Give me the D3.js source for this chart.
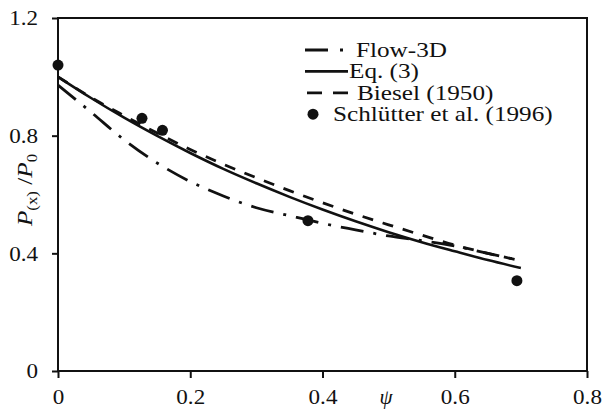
<!DOCTYPE html>
<html>
<head>
<meta charset="utf-8">
<script src="https://cdn.jsdelivr.net/npm/d3@7"></script>
<style>
  body { margin: 0; background: #fff; }
  text { font-family: "Liberation Serif", "Times New Roman", serif; fill: #111; }
</style>
</head>
<body>
<div id="visContainer"></div>
<script>
'use strict';

// values
var psi = [0, 0.05, 0.1, 0.15, 0.2, 0.25, 0.3, 0.35, 0.4, 0.45, 0.5, 0.55, 0.6, 0.65, 0.7];
var flow3d = [0.972, 0.88, 0.786, 0.707, 0.644, 0.595, 0.555, 0.528, 0.502, 0.480, 0.459, 0.443, 0.425, 0.400, 0.375];
var eq3 = [1.0, 0.928, 0.861, 0.799, 0.741, 0.687, 0.638, 0.592, 0.549, 0.509, 0.472, 0.438, 0.407, 0.377, 0.35];
var biesel = [1.0, 0.93, 0.868, 0.809, 0.753, 0.703, 0.657, 0.613, 0.572, 0.533, 0.497, 0.462, 0.428, 0.400, 0.375];
var expX = [0, 0.127, 0.158, 0.378, 0.694];
var expY = [1.04, 0.859, 0.818, 0.511, 0.307];
var legendNames = ['Flow-3D', 'Eq. (3)', 'Biesel (1950)', 'Schl\u00fctter et al. (1996)'];
var xTicks = [0, 0.2, 0.4, 0.6, 0.8];
var yTicks = [0, 0.4, 0.8, 1.2];

var width = 603;
var height = 410;
var padding = { top: 18, right: 16, bottom: 39, left: 58 };
var stretch = 1.2; // the original lettering is a bit wider than Times

var svg = d3.select('#visContainer')
    .append('svg')
    .attr('width', width)
    .attr('height', height);

var x = d3.scaleLinear().domain([0, 0.8]).range([padding.left, width - padding.right]);
var y = d3.scaleLinear().domain([0, 1.2]).range([height - padding.bottom, padding.top]);

function fmt(d) { return d === 0 ? '0' : d3.format('.1f')(d); }

// axes
var xAxis = svg.append('g')
    .attr('transform', 'translate(0,' + y(0) + ')')
    .call(d3.axisBottom(x).tickValues(xTicks).tickFormat(fmt).tickSize(7).tickSizeOuter(0).tickPadding(11));
var yAxis = svg.append('g')
    .attr('transform', 'translate(' + x(0) + ',0)')
    .call(d3.axisLeft(y).tickValues(yTicks).tickFormat(fmt).tickSize(6).tickSizeOuter(0).tickPadding(14));

[xAxis, yAxis].forEach(function(g) {
  g.select('.domain').remove();
  g.selectAll('line').attr('stroke', '#111').attr('stroke-width', 2);
  g.selectAll('text').attr('font-size', '21px').attr('font-family', '"Liberation Serif", serif').attr('fill', '#111');
});
// slightly wider digits, like the original
xAxis.selectAll('text').attr('transform', 'scale(1.1,1)')
    .attr('x', function() { return 0; });
xAxis.selectAll('.tick').each(function() {
  var t = d3.select(this).select('text');
  t.attr('transform', 'scale(1.1,1)');
});
yAxis.selectAll('.tick text').each(function() {
  var t = d3.select(this);
  var tx = +t.attr('x');
  t.attr('x', tx / 1.1).attr('transform', 'scale(1.1,1)');
});

// frame
svg.append('rect')
    .attr('x', x(0)).attr('y', y(1.2))
    .attr('width', x(0.8) - x(0)).attr('height', y(0) - y(1.2))
    .attr('fill', 'none').attr('stroke', '#111').attr('stroke-width', 2);

// axis titles
svg.append('text')
    .attr('x', x(0.496)).attr('y', 404)
    .attr('text-anchor', 'middle')
    .attr('font-size', '21px').attr('font-style', 'italic')
    .text('\u03c8');

var yt = svg.append('text')
    .attr('transform', 'translate(32,190) rotate(-90) scale(' + stretch + ',1)')
    .attr('text-anchor', 'middle')
    .attr('font-size', '21px');
yt.append('tspan').attr('font-style', 'italic').text('P');
yt.append('tspan').attr('font-size', '14px').attr('dy', 5).text('(x)');
yt.append('tspan').attr('dy', -5).text(' /');
yt.append('tspan').attr('font-style', 'italic').text('P');
yt.append('tspan').attr('font-size', '14px').attr('dy', 5).text('0');

// curves
var line = d3.line()
    .x(function(d) { return x(d[0]); })
    .y(function(d) { return y(d[1]); })
    .curve(d3.curveMonotoneX);

function drawLine(values, dash, w) {
  svg.append('path')
      .attr('d', line(d3.zip(psi, values)))
      .attr('fill', 'none')
      .attr('stroke', '#111')
      .attr('stroke-width', w)
      .attr('stroke-dasharray', dash);
}
drawLine(biesel, '11,10', 2.8);
drawLine(eq3, null, 2.6);
drawLine(flow3d, '23,10,3,10', 2.8);

svg.selectAll('circle.pt')
    .data(d3.zip(expX, expY))
    .enter().append('circle')
    .attr('class', 'pt')
    .attr('cx', function(d) { return x(d[0]); })
    .attr('cy', function(d) { return y(d[1]); })
    .attr('r', 5.5)
    .attr('fill', '#111');

// legend (irregular spacing as in the original)
var legendStyle = [
  { kind: 'line', dash: '23,12,3,50', x1: 305, x2: 346, tx: 356 },
  { kind: 'line', dash: null, x1: 305, x2: 348, tx: 349 },
  { kind: 'line', dash: '15,11,15,50', x1: 307, x2: 348, tx: 357 },
  { kind: 'dot', cx: 313, tx: 333 }
];
var lg = svg.append('g');
legendNames.forEach(function(name, i) {
  var s = legendStyle[i];
  var base = 57 + i * 21.4;
  var cy = base - 7;
  if (s.kind === 'line') {
    lg.append('line')
        .attr('x1', s.x1).attr('x2', s.x2).attr('y1', cy).attr('y2', cy)
        .attr('stroke', '#111').attr('stroke-width', 2.8)
        .attr('stroke-dasharray', s.dash);
  } else {
    lg.append('circle').attr('cx', s.cx).attr('cy', cy).attr('r', 5.5).attr('fill', '#111');
  }
  lg.append('text')
      .attr('transform', 'translate(' + s.tx + ',' + base + ') scale(' + stretch + ',1)')
      .attr('font-size', '21px')
      .text(name);
});
</script>
</body>
</html>
